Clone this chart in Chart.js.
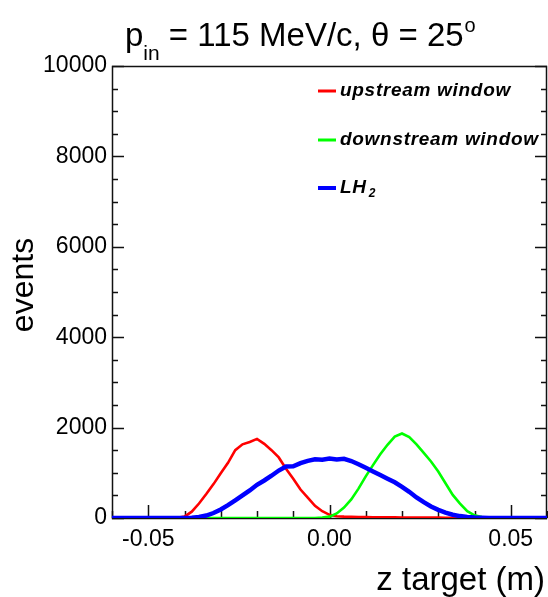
<!DOCTYPE html>
<html>
<head>
<meta charset="utf-8">
<script src="https://cdn.jsdelivr.net/npm/chart.js@4.4.1/dist/chart.umd.min.js"></script>
<style>
  html, body { margin: 0; padding: 0; background: #fff; }
  #wrap { width: 548px; height: 597px; position: relative; }
</style>
</head>
<body>
<div id="wrap"><canvas id="c" width="548" height="597"></canvas></div>
<script>
// bin centres of the z target histogram (m)
const zBins = [-0.060,-0.058,-0.056,-0.054,-0.052,-0.050,-0.048,-0.046,-0.044,-0.042,
  -0.040,-0.038,-0.036,-0.034,-0.032,-0.030,-0.028,-0.026,-0.024,-0.022,
  -0.020,-0.018,-0.016,-0.014,-0.012,-0.010,-0.008,-0.006,-0.004,-0.002,
  0.000,0.002,0.004,0.006,0.008,0.010,0.012,0.014,0.016,0.018,
  0.020,0.022,0.024,0.026,0.028,0.030,0.032,0.034,0.036,0.038,
  0.040,0.042,0.044,0.046,0.048,0.050,0.052,0.054,0.056,0.058,0.060];

const upstreamWindow = [0,0,0,0,0,0,0,0,0,5,
  30,140,320,530,750,990,1220,1500,1630,1680,
  1750,1640,1500,1340,1090,870,630,450,270,150,
  70,40,30,25,22,20,18,16,15,14,
  12,12,10,10,9,8,7,6,5,4,
  3,2,1,0,0,0,0,0,0,0,0];

const downstreamWindow = [0,0,0,0,0,0,0,0,0,0,
  0,0,0,0,0,0,0,0,0,0,
  0,0,0,0,0,0,0,0,0,8,
  30,100,230,410,650,920,1170,1410,1620,1800,
  1870,1790,1630,1440,1250,1030,770,510,320,150,
  60,20,6,0,0,0,0,0,0,0,0];

const lh2 = [0,0,0,0,0,0,0,0,0,0,
  2,8,22,55,110,190,285,390,500,610,
  735,830,935,1050,1140,1145,1215,1265,1300,1290,
  1315,1295,1310,1260,1190,1110,1030,950,870,790,
  690,580,455,350,255,180,120,72,42,22,
  10,4,1,0,0,0,0,0,0,0,0];

const xTickValues = [-0.05, 0.00, 0.05];
const yTickValues = [0, 2000, 4000, 6000, 8000, 10000];
const seriesLabels = ['upstream window', 'downstream window', 'LH'];
const seriesColors = ['#ff0000', '#00ff00', '#0000ff'];
const titleText = { main: 'p', sub: 'in', rest: ' = 115 MeV/c, \u03b8 = 25', sup: 'o' };
const xTitle = 'z target (m)';
const yTitle = 'events';

const FONT = "'Liberation Sans', Arial, Helvetica, sans-serif";

function pts(vals) { return zBins.map((z, i) => ({ x: z, y: vals[i] })); }

const rootDecor = {
  id: 'rootDecor',
  beforeDatasetsDraw(chart) {
    const ctx = chart.ctx, a = chart.chartArea;
    const xs = chart.scales.x, ys = chart.scales.y;
    ctx.save();
    ctx.strokeStyle = '#111';
    ctx.lineWidth = 1.5;
    ctx.strokeRect(a.left + 0.5, a.top + 0.5, a.right - a.left - 1, a.bottom - a.top);
    ctx.beginPath();
    for (let v = 0; v <= 10000; v += 500) {
      const y = Math.round(ys.getPixelForValue(v)) + 0.5;
      const len = (v % 2000 === 0) ? 12 : 6;
      ctx.moveTo(a.left, y); ctx.lineTo(a.left + len, y);
      ctx.moveTo(a.right, y); ctx.lineTo(a.right - len, y);
    }
    for (let k = -6; k <= 6; k++) {
      const x = Math.round(xs.getPixelForValue(k / 100)) + 0.5;
      const len = (k % 5 === 0) ? 13 : 7;
      ctx.moveTo(x, a.bottom); ctx.lineTo(x, a.bottom - len);
    }
    ctx.stroke();
    ctx.restore();
  },
  afterDraw(chart) {
    const ctx = chart.ctx;
    ctx.save();
    ctx.fillStyle = '#000';
    ctx.textBaseline = 'alphabetic';
    let x = 125, y = 46;
    ctx.font = '33px ' + FONT;
    ctx.fillText(titleText.main, x, y); x += ctx.measureText(titleText.main).width;
    ctx.font = '21px ' + FONT;
    ctx.fillText(titleText.sub, x, y + 14); x += ctx.measureText(titleText.sub).width;
    ctx.font = '33px ' + FONT;
    ctx.fillText(titleText.rest, x, y); x += ctx.measureText(titleText.rest).width;
    ctx.font = '20px ' + FONT;
    ctx.fillText(titleText.sup, x + 1, y - 14);
    ctx.font = '33px ' + FONT;
    ctx.textAlign = 'right';
    ctx.fillText(xTitle, 545, 590);
    ctx.save();
    ctx.translate(33, 285);
    ctx.rotate(-Math.PI / 2);
    ctx.textAlign = 'center';
    ctx.font = '32px ' + FONT;
    ctx.fillText(yTitle, 0, 0);
    ctx.restore();
    ctx.textAlign = 'left';
    ctx.textBaseline = 'middle';
    const rows = [91, 140, 188];
    for (let i = 0; i < 3; i++) {
      ctx.strokeStyle = seriesColors[i];
      ctx.lineWidth = i === 2 ? 4 : 3;
      ctx.beginPath(); ctx.moveTo(318, rows[i]); ctx.lineTo(336, rows[i]); ctx.stroke();
      ctx.font = 'italic bold 19px ' + FONT;
      ctx.letterSpacing = '0.7px';
      ctx.fillText(seriesLabels[i], 340, rows[i]);
      if (i === 2) {
        const w = ctx.measureText(seriesLabels[i]).width;
        ctx.font = 'italic bold 12px ' + FONT;
        ctx.fillText('2', 340 + w + 2, rows[i] + 6);
      }
      ctx.letterSpacing = '0px';
    }
    ctx.restore();
  }
};

new Chart(document.getElementById('c'), {
  type: 'line',
  data: {
    datasets: [
      { label: seriesLabels[0], data: pts(upstreamWindow), borderColor: seriesColors[0], borderWidth: 2.6, order: 3 },
      { label: seriesLabels[1], data: pts(downstreamWindow), borderColor: seriesColors[1], borderWidth: 2.6, order: 2 },
      { label: 'LH2', data: pts(lh2), borderColor: seriesColors[2], borderWidth: 4.5, order: 1 }
    ]
  },
  options: {
    responsive: false,
    animation: false,
    devicePixelRatio: 1,
    layout: { padding: { top: 66, right: 1, left: 0, bottom: 0 } },
    elements: { point: { radius: 0 }, line: { tension: 0, fill: false } },
    plugins: { legend: { display: false }, title: { display: false }, tooltip: { enabled: false } },
    scales: {
      x: {
        type: 'linear', min: -0.06, max: 0.06,
        grid: { display: false, drawTicks: false },
        border: { display: false },
        afterBuildTicks: s => { s.ticks = xTickValues.map(v => ({ value: v })); },
        afterFit: s => { s.height = 79; },
        ticks: { color: '#000', padding: 8, maxRotation: 0, autoSkip: false,
          font: { family: FONT, size: 23 }, callback: v => Number(v).toFixed(2) }
      },
      y: {
        type: 'linear', min: 0, max: 10000,
        grid: { display: false, drawTicks: false },
        border: { display: false },
        afterBuildTicks: s => { s.ticks = yTickValues.map(v => ({ value: v })); },
        afterFit: s => { s.width = 112; },
        ticks: { color: '#000', padding: 5, autoSkip: false,
          font: { family: FONT, size: 23 }, callback: v => String(v) }
      }
    }
  },
  plugins: [rootDecor]
});
</script>
</body>
</html>
